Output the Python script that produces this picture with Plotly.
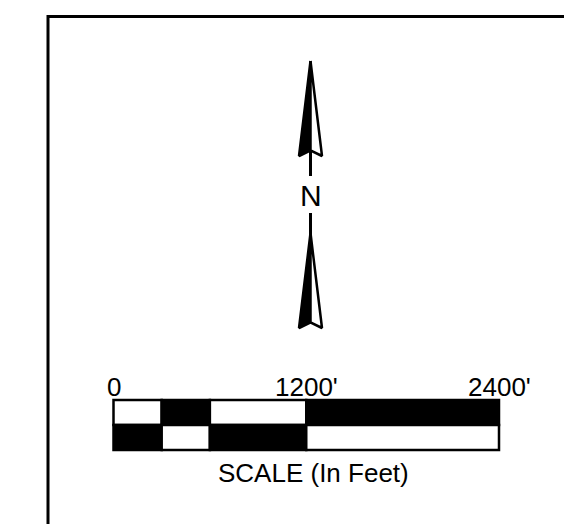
import plotly.graph_objects as go

# ---- data ----
seg_start_ft = [0, 300, 600, 1200]
seg_len_ft = [300, 300, 600, 1200]
top_row_colors = ["white", "black", "white", "black"]
bottom_row_colors = ["black", "white", "black", "white"]
tick_values_ft = [0, 1200, 2400]
tick_labels = ["0", "1200'", "2400'"]
scale_title = "SCALE (In Feet)"
north_label = "N"

W, H = 564, 524
# page pixel <-> feet mapping for the scale axis
PX0, PX_END, FT_END = 113.5, 499.0, 2400.0
ft_per_px = FT_END / (PX_END - PX0)


def px2ft(px):
    return (px - PX0) * ft_per_px


FONT = "Liberation Sans, Arial, sans-serif"
fig = go.Figure()

# frame (top + left border)
fig.add_trace(go.Scatter(
    x=[px2ft(48), px2ft(48), px2ft(600)], y=[560, 16.5, 16.5], mode="lines",
    line=dict(color="black", width=3), hoverinfo="skip", showlegend=False))

# scale bar
ys = [412.5] * 4 + [437.5] * 4
fig.add_trace(go.Bar(
    orientation="h", y=ys, x=seg_len_ft + seg_len_ft,
    base=seg_start_ft + seg_start_ft, width=25,
    marker=dict(color=top_row_colors + bottom_row_colors,
                line=dict(color="black", width=2.5)),
    hoverinfo="skip", showlegend=False))

# north arrow
cx = 310.5
hw = 11.5


def arrow(tip, barb, notch):
    left = dict(x=[px2ft(cx), px2ft(cx - hw), px2ft(cx), px2ft(cx)],
                y=[tip, barb, notch, tip])
    right = dict(x=[px2ft(cx), px2ft(cx + hw), px2ft(cx), px2ft(cx)],
                 y=[tip, barb, notch, tip])
    fig.add_trace(go.Scatter(**left, mode="lines", fill="toself",
                             fillcolor="black", line=dict(color="black", width=2.5),
                             hoverinfo="skip", showlegend=False))
    fig.add_trace(go.Scatter(**right, mode="lines", fill="toself",
                             fillcolor="white", line=dict(color="black", width=2.5),
                             hoverinfo="skip", showlegend=False))


# shafts
fig.add_trace(go.Scatter(x=[px2ft(cx)] * 2, y=[150, 176], mode="lines",
                         line=dict(color="black", width=3), hoverinfo="skip", showlegend=False))
fig.add_trace(go.Scatter(x=[px2ft(cx)] * 2, y=[213, 236], mode="lines",
                         line=dict(color="black", width=3), hoverinfo="skip", showlegend=False))
arrow(61, 156, 150.5)
arrow(233, 328, 322.5)

annotations = []
for v, t in zip(tick_values_ft, tick_labels):
    annotations.append(dict(x=v, y=386.5, text=t, showarrow=False,
                            xanchor="center", yanchor="middle",
                            font=dict(family=FONT, size=26, color="black")))
annotations.append(dict(x=px2ft(313), y=473, text=scale_title, showarrow=False,
                        xanchor="center", yanchor="middle",
                        font=dict(family=FONT, size=26, color="black")))
annotations.append(dict(x=px2ft(311), y=195, text=north_label, showarrow=False,
                        xanchor="center", yanchor="middle",
                        font=dict(family=FONT, size=30, color="black")))

fig.update_layout(
    width=W, height=H, autosize=False,
    margin=dict(l=0, r=0, t=0, b=0, pad=0),
    paper_bgcolor="white", plot_bgcolor="white",
    barmode="overlay",
    xaxis=dict(range=[px2ft(0), px2ft(W)], visible=False, fixedrange=True),
    yaxis=dict(range=[H, 0], visible=False, fixedrange=True),
    annotations=annotations,
    showlegend=False,
)

fig.write_html("out.html", config=dict(displayModeBar=False),
               post_script="document.body.style.margin='0';document.body.style.overflow='hidden';")
